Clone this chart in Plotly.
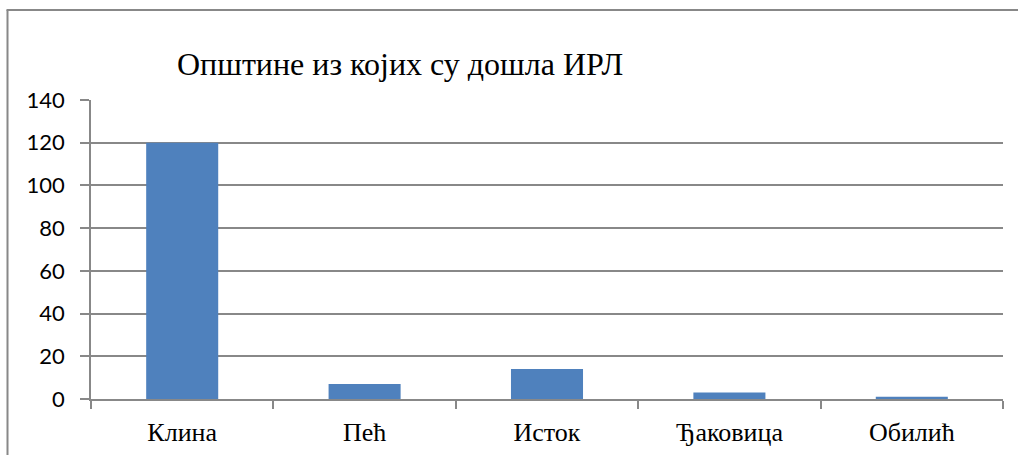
import plotly.graph_objects as go

categories = ["Клина", "Пећ", "Исток", "Ђаковица", "Обилић"]
values = [120, 7, 14, 3, 1]
y_ticks = [0, 20, 40, 60, 80, 100, 120, 140]
title_text = "Општине из којих су дошла ИРЛ"

W, H = 1018, 455
L, R, T, B = 91, 15, 100, 56
pw, ph = W - L - R, H - T - B

def px_x(p):
    return (p - L) / pw

def px_y(p):
    return (H - B - p) / ph

fig = go.Figure(go.Bar(x=categories, y=values, marker=dict(color="#4F81BD", line=dict(width=0))))

grid = "#888888"
fig.update_layout(
    width=W, height=H,
    margin=dict(l=L, r=R, t=T, b=B, autoexpand=False),
    paper_bgcolor="white", plot_bgcolor="white",
    bargap=0.605,
    showlegend=False,
    annotations=[dict(text=title_text, xref="paper", yref="paper",
                      x=px_x(175), y=px_y(64), xanchor="left", yanchor="middle",
                      showarrow=False,
                      font=dict(family="Liberation Serif", size=32, color="black"))],
    shapes=[
        dict(type="line", xref="paper", yref="paper", x0=px_x(7.5), x1=px_x(7.5),
             y0=px_y(10), y1=px_y(460), line=dict(color=grid, width=2)),
        dict(type="line", xref="paper", yref="paper", x0=px_x(6.5), x1=px_x(1020),
             y0=px_y(10), y1=px_y(10), line=dict(color=grid, width=2)),
    ],
)
fig.update_yaxes(range=[0, 140], tickvals=y_ticks, showgrid=True, gridcolor=grid, gridwidth=1.5,
                 showline=True, linecolor=grid, linewidth=1.5, ticks="outside", ticklen=9,
                 tickcolor=grid, tickwidth=1.5, zeroline=False, ticklabelstandoff=11,
                 automargin=False,
                 tickfont=dict(family="Lato", size=22, color="black"))
fig.update_xaxes(showline=True, linecolor=grid, linewidth=1.5, ticks="outside", tickson="boundaries",
                 ticklen=8, tickcolor=grid, tickwidth=1.5, showgrid=False, ticklabelstandoff=9,
                 automargin=False,
                 tickfont=dict(family="Liberation Serif", size=26, color="black"))

fig.write_html("out.html", config={"displayModeBar": False},
               post_script="document.body.style.margin='0';document.body.style.overflow='hidden';")
